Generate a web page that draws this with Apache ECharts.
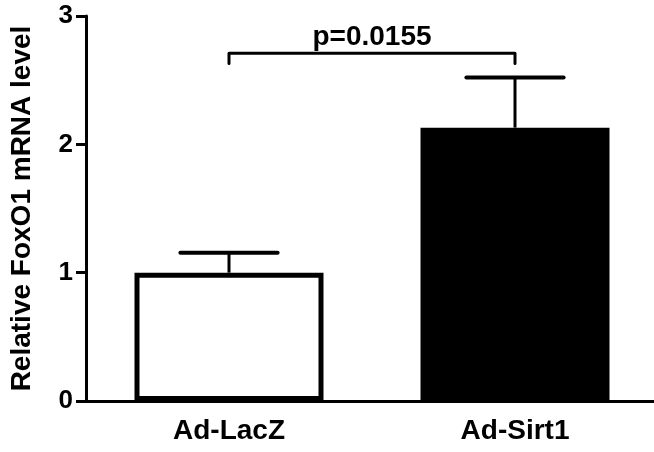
<!DOCTYPE html>
<html>
<head>
<meta charset="utf-8">
<script src="https://cdn.jsdelivr.net/npm/echarts@6/dist/echarts.min.js"></script>
<style>html,body{margin:0;padding:0;background:#fff}#c{width:654px;height:452px}</style>
</head>
<body>
<div id="c"></div>
<script>
var categories = ['Ad-LacZ', 'Ad-Sirt1'];
var means = [1.0, 2.13];
var errUpper = [1.155, 2.52];
var barColors = ['#ffffff', '#000000'];
var yTicks = [0, 1, 2, 3];
var bracketY = [2.71, 2.63];
var pLabel = 'p=0.0155';

var font = '"Liberation Sans", Arial, sans-serif';
var chart = echarts.init(document.getElementById('c'), null, {renderer: 'canvas'});
chart.setOption({
  animation: false,
  grid: {left: 86, top: 16, bottom: 51, width: 572, containLabel: false, outerBoundsMode: 'none'},
  xAxis: {
    type: 'category', data: categories,
    axisLine: {lineStyle: {color: '#000', width: 3}},
    axisTick: {show: false},
    axisLabel: {color: '#000', fontSize: 28, fontWeight: 'bold', fontFamily: font, margin: 16}
  },
  yAxis: {
    type: 'value', min: yTicks[0], max: yTicks[yTicks.length - 1], interval: 1,
    name: 'Relative FoxO1 mRNA level', nameLocation: 'middle', nameGap: 50, nameRotate: 90,
    nameTextStyle: {color: '#000', fontSize: 28, fontWeight: 'bold', fontFamily: font},
    axisLine: {show: true, lineStyle: {color: '#000', width: 3}},
    axisTick: {show: true, length: 10, lineStyle: {color: '#000', width: 3}},
    axisLabel: {color: '#000', fontSize: 26, fontWeight: 'bold', fontFamily: font, margin: 13},
    splitLine: {show: false}
  },
  series: [
    {
      type: 'bar', barWidth: 189,
      data: means.map(function (v, i) {
        return {value: v, itemStyle: {color: barColors[i], borderColor: '#000', borderWidth: 5}};
      }),
      z: 2
    },
    {
      type: 'custom', z: 3,
      data: categories.map(function (c, i) { return [i, means[i], errUpper[i]]; }),
      renderItem: function (params, api) {
        var i = api.value(0);
        var base = api.coord([i, api.value(1)]);
        var top = api.coord([i, api.value(2)]);
        var half = api.size([1, 0])[0] * 0.17;
        return {
          type: 'group',
          children: [
            {type: 'line', shape: {x1: base[0], y1: base[1], x2: top[0], y2: top[1]}, style: {stroke: '#000', lineWidth: 3}},
            {type: 'line', shape: {x1: top[0] - half, y1: top[1], x2: top[0] + half, y2: top[1]}, style: {stroke: '#000', lineWidth: 4, lineCap: 'round'}}
          ]
        };
      }
    },
    {
      type: 'custom', z: 3,
      data: [[0, 1, bracketY[0], bracketY[1]]],
      renderItem: function (params, api) {
        var a = api.coord([api.value(0), api.value(2)]);
        var b = api.coord([api.value(1), api.value(2)]);
        var aEnd = api.coord([api.value(0), api.value(3)]);
        var bEnd = api.coord([api.value(1), api.value(3)]);
        return {
          type: 'group',
          children: [
            {type: 'polyline', shape: {points: [[aEnd[0], aEnd[1]], [a[0], a[1]], [b[0], b[1]], [bEnd[0], bEnd[1]]]},
             style: {stroke: '#000', lineWidth: 3, fill: null, lineJoin: 'round', lineCap: 'round'}},
            {type: 'text', x: (a[0] + b[0]) / 2, y: a[1] - 2,
             style: {text: pLabel, fill: '#000', font: 'bold 28px ' + font, align: 'center', verticalAlign: 'bottom'}}
          ]
        };
      }
    }
  ]
});
</script>
</body>
</html>
